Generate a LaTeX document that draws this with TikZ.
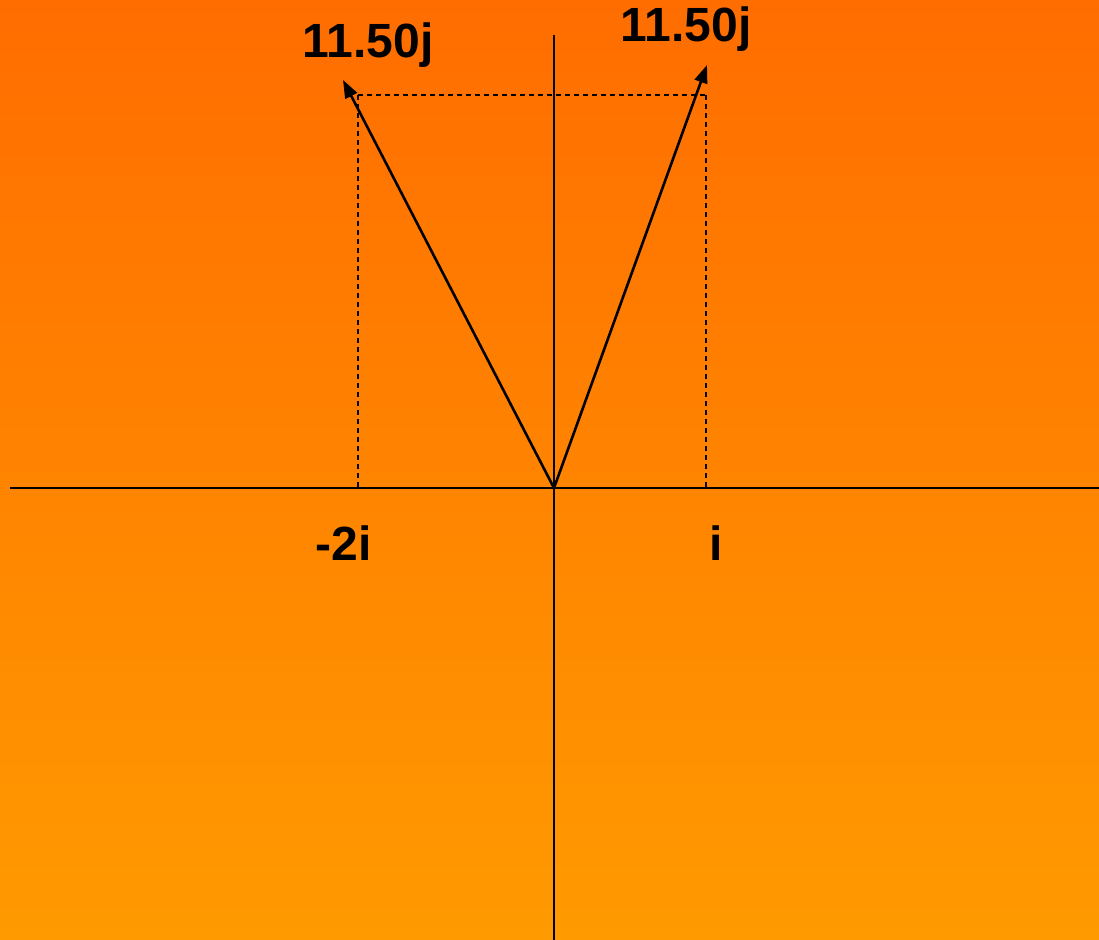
\documentclass[tikz,border=0pt]{standalone}
\usepackage{fontspec}
\setmainfont{Liberation Sans}
\usetikzlibrary{arrows.meta,positioning}
\definecolor{bgtop}{HTML}{FF6D00}
\definecolor{bgbottom}{HTML}{FF9A00}
\tikzset{
  axis/.style={black,line width=1.1pt},
  vector/.style={-{Triangle[length=9pt,width=6.5pt]},black,line width=1.3pt},
  guide/.style={black,line width=0.9pt,dash pattern=on 2.5pt off 2pt},
  vlabel/.style={font=\bfseries\fontsize{24}{28}\selectfont,inner sep=0pt}
}
\begin{document}
\begin{tikzpicture}[x=0.5pt,y=-0.5pt]
% background
\fill[top color=bgtop,bottom color=bgbottom] (0,0) rectangle (1099,940);
\useasboundingbox (0,0) rectangle (1099,940);
% axes
\coordinate (O) at (554,488);
\draw[axis] (10,488)--(1099,488);
\draw[axis] (554,35)--(554,940);
% vectors
\coordinate (tipL) at (343,80);
\coordinate (tipR) at (707,65);
\coordinate (cornerL) at (358,95);
\coordinate (cornerR) at (706,95);
\coordinate (footL) at (358,488);
\coordinate (footR) at (706,488);
\draw[guide] (cornerL)--(cornerR);
\draw[guide] (cornerL)--(footL);
\draw[guide] (cornerR)--(footR);
\draw[vector] (O)--(tipL);
\draw[vector] (O)--(tipR);
% labels
\node[vlabel] (labL) at (368,45) {11.50j};
\node[vlabel] (labR) at (686,29) {11.50j};
\node[vlabel] (reL) at (344,543) {-2i};
\node[vlabel] (reR) at (716,543) {i};
\end{tikzpicture}
\end{document}
